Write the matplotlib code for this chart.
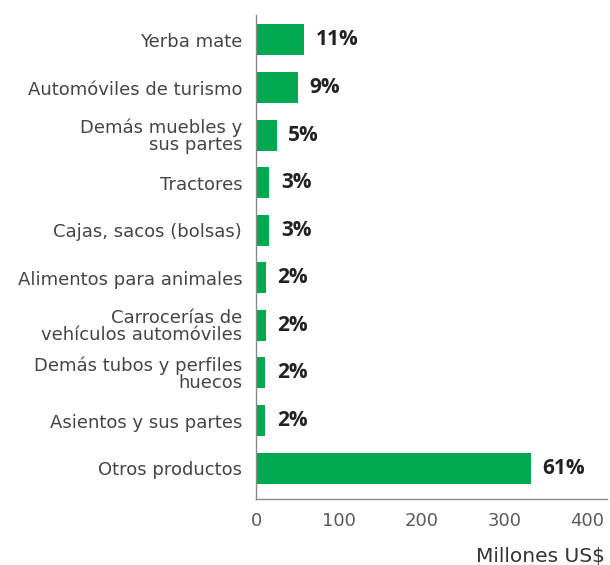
import matplotlib
matplotlib.use("Agg")
import matplotlib.pyplot as plt

categories = [
    "Yerba mate",
    "Automóviles de turismo",
    "Demás muebles y\nsus partes",
    "Tractores",
    "Cajas, sacos (bolsas)",
    "Alimentos para animales",
    "Carrocerías de\nvehículos automóviles",
    "Demás tubos y perfiles\nhuecos",
    "Asientos y sus partes",
    "Otros productos",
]
values = [58, 51, 25, 16, 16, 12, 12, 11, 11, 332]
shares = ["11%", "9%", "5%", "3%", "3%", "2%", "2%", "2%", "2%", "61%"]
x_ticks = [0, 100, 200, 300, 400]

GREEN = "#00a94f"
LABEL_FONT = "DejaVu Sans"
VALUE_FONT = "Open Sans"

fig = plt.figure(figsize=(6.1, 5.65), dpi=100)
ax = fig.add_axes([0.4197, 0.1168, 0.5753, 0.8567])

ypos = list(range(len(categories)))
ax.barh(ypos, values, height=0.65, color=GREEN)

# share labels just past each bar end
for y, v, s in zip(ypos, values, shares):
    ax.text(v + 14, y, s, va="center", ha="left", fontsize=15,
            fontweight="bold", color="#222222", family=VALUE_FONT)

ax.set_xlim(0, 424)
ax.set_ylim(9.65, -0.525)
ax.set_yticks(ypos)
ax.set_yticklabels(categories, fontsize=13, color="#454545",
                   family=LABEL_FONT, linespacing=0.92)
ax.set_xticks(x_ticks)
ax.set_xticklabels([str(t) for t in x_ticks], fontsize=13, color="#5a5a5a",
                   family=LABEL_FONT)
ax.tick_params(axis="both", length=0)
ax.tick_params(axis="y", pad=10)
ax.tick_params(axis="x", pad=9)

for side in ("top", "right"):
    ax.spines[side].set_visible(False)
for side in ("left", "bottom"):
    ax.spines[side].set_color("#8a8a8a")
    ax.spines[side].set_linewidth(1.0)

fig.text(0.992, 0.006, "Millones US$", ha="right", va="baseline",
         fontsize=14.5, color="#333333", family=LABEL_FONT)

fig.savefig("out.png", dpi=100)
